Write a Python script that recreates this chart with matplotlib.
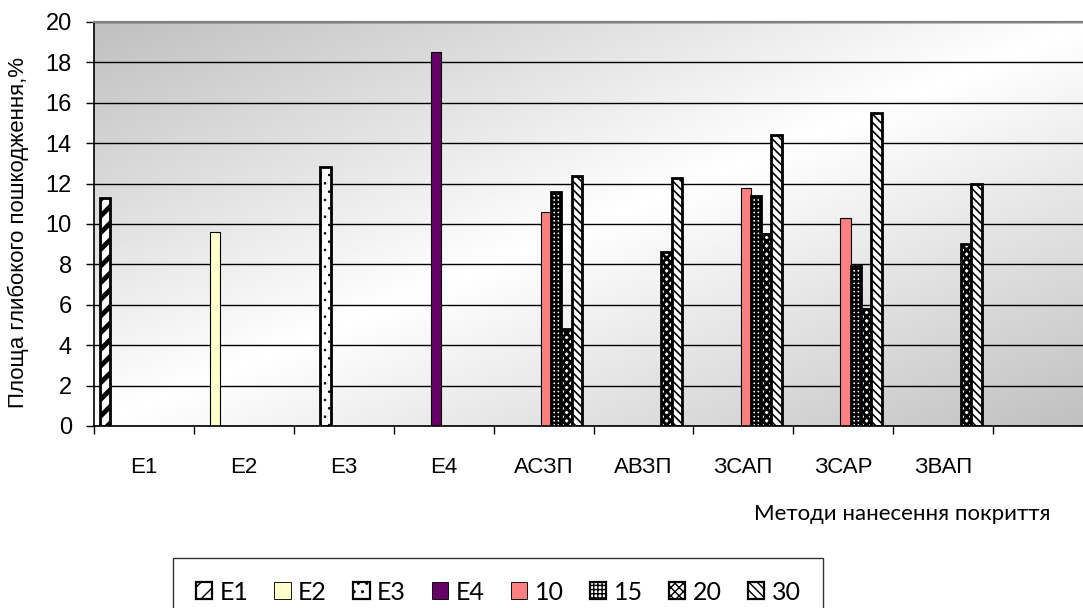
#!/usr/bin/env python

import numpy as np
import matplotlib
matplotlib.use('Agg')
import matplotlib.pyplot as plt
from matplotlib.patches import Patch

nan = np.nan

categories = ['E1', 'E2', 'E3', 'E4', 'АСЗП', 'АВЗП', 'ЗСАП', 'ЗСАР', 'ЗВАП', '']
series_names = ['E1', 'E2', 'E3', 'E4', '10', '15', '20', '30']

e1 = [11.3, nan, nan, nan, nan, nan, nan, nan, nan, nan]
e2 = [nan, 9.6, nan, nan, nan, nan, nan, nan, nan, nan]
e3 = [nan, nan, 12.8, nan, nan, nan, nan, nan, nan, nan]
e4 = [nan, nan, nan, 18.5, nan, nan, nan, nan, nan, nan]
s10 = [nan, nan, nan, nan, 10.6, nan, 11.8, 10.3, nan, nan]
s15 = [nan, nan, nan, nan, 11.6, nan, 11.4, 7.9, nan, nan]
s20 = [nan, nan, nan, nan, 4.8, 8.6, 9.5, 5.8, 9.0, nan]
s30 = [nan, nan, nan, nan, 12.4, 12.3, 14.4, 15.5, 12.0, nan]

y_ticks = list(range(0, 21, 2))
y_label = 'Площа глибокого пошкодження,%'
x_label = 'Методи нанесення покриття'

# (facecolor, hatch, hatch linewidth, edge linewidth)
styles = [
    ('white', '//', 3.5, 2.0),
    ('#FFFFCC', None, 1.0, 0.8),
    ('white', '..', 0.6, 2.0),
    ('#660066', None, 1.0, 0.8),
    ('#FF8080', None, 1.0, 0.8),
    ('white', '++++', 1.8, 2.0),
    ('white', 'xxxx', 2.2, 2.0),
    ('white', '\\\\\\\\', 1.2, 2.0),
]

tick_font = ['Liberation Sans Narrow', 'Liberation Sans', 'DejaVu Sans']
legend_font = ['Lato', 'DejaVu Sans']

fig = plt.figure(figsize=(10.83, 6.08), dpi=100)
ax = fig.add_axes([94 / 1083, 1 - 426 / 608, 999 / 1083, 404 / 608])

# diagonal grey-white-grey gradient of the plot area (row 0 = top)
u = np.linspace(0, 1, 300)
v = np.linspace(0, 1, 150)
U, V = np.meshgrid(u, v)
t = (U + V) / 2
grey = 0.75
shade = grey + (1 - grey) * (1 - np.abs(2 * t - 1))
ax.imshow(shade, cmap='gray', vmin=0, vmax=1, extent=(0, 10, 0, 20),
          origin='upper', aspect='auto', interpolation='bilinear', zorder=-2)

all_series = [e1, e2, e3, e4, s10, s15, s20, s30]
x = np.arange(len(categories))
width = 0.103
handles = []
for k, (vals, name, st) in enumerate(zip(all_series, series_names, styles)):
    fc, hatch, hlw, elw = st
    with plt.rc_context({'hatch.linewidth': hlw}):
        ax.bar(x + 0.06 + k * width, vals, width, align='edge',
               color=fc, edgecolor='black', linewidth=elw,
               hatch=hatch, zorder=2)
        h = Patch(facecolor=fc, edgecolor='black', linewidth=elw * 0.8,
                  hatch=hatch, label=name)
    handles.append(h)

ax.set_xlim(0, 10)
ax.set_ylim(0, 20)
ax.set_yticks(y_ticks)
ax.set_yticklabels([str(v) for v in y_ticks], family=tick_font, fontsize=17)
ax.set_xticks(np.arange(0, 11))
ax.set_xticklabels([])
ax.set_xticks(x + 0.5, minor=True)
ax.set_xticklabels(categories, minor=True, family=tick_font, fontsize=16)
ax.tick_params(axis='x', which='major', direction='out', length=6, width=1)
ax.tick_params(axis='x', which='minor', length=0, pad=22)
ax.tick_params(axis='y', direction='out', length=6, width=1, pad=10)

ax.yaxis.grid(True, color='black', linewidth=1.0)
ax.set_axisbelow(True)
ax.spines['top'].set_color('#808080')
ax.spines['top'].set_linewidth(1.6)
ax.spines['right'].set_color('#808080')
for s in ('left', 'bottom'):
    ax.spines[s].set_color('black')
    ax.spines[s].set_linewidth(1.2)

fig.text(18 / 1083, 1 - 232 / 608, y_label, rotation=90, ha='center',
         va='center', family=['Liberation Sans', 'DejaVu Sans'], fontsize=16)
fig.text(1050 / 1083, 1 - 514 / 608, x_label, ha='right', va='center',
         family=legend_font, fontsize=16)

leg = fig.legend(handles=handles, loc='upper left',
                 bbox_to_anchor=(173 / 1083, 1 - 558 / 608), ncol=8,
                 prop={'family': legend_font, 'size': 18},
                 frameon=True, fancybox=False, edgecolor='black',
                 handlelength=0.65, handleheight=0.65, handletextpad=0.3,
                 columnspacing=1.05, borderpad=0.9, borderaxespad=0)
leg.get_frame().set_linewidth(1.0)

fig.savefig('out.png', dpi=100)
